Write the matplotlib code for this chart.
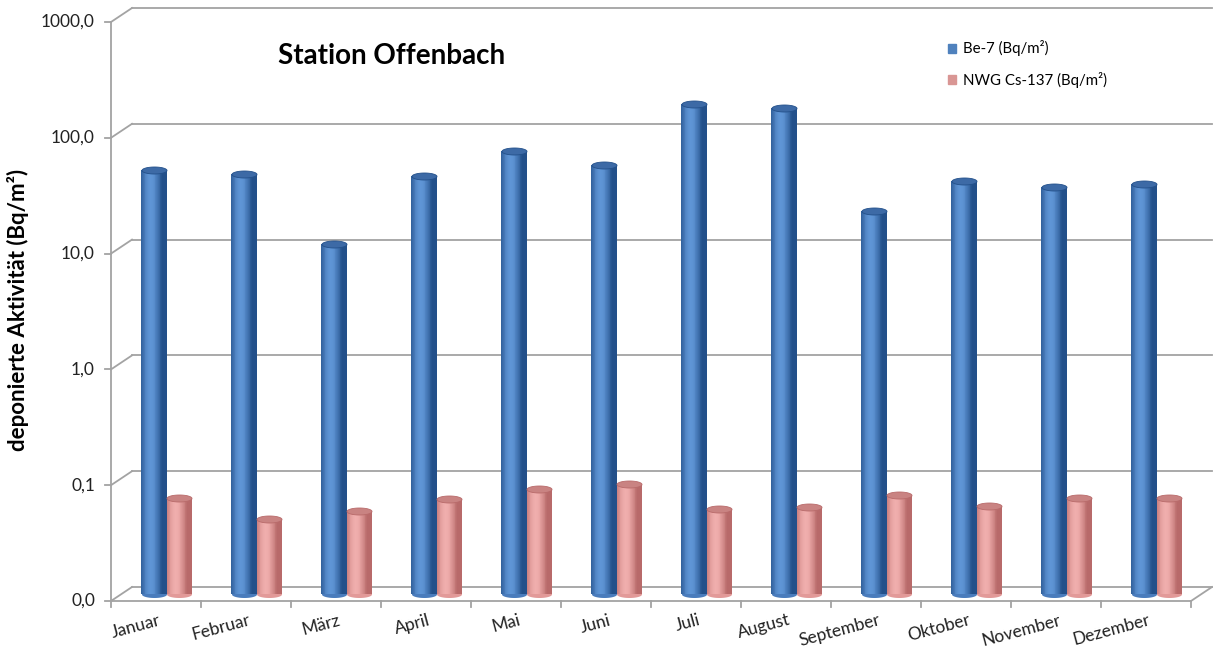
import matplotlib
matplotlib.use("Agg")
import matplotlib.pyplot as plt
import numpy as np
from matplotlib import transforms
from matplotlib.lines import Line2D
from matplotlib.path import Path
from matplotlib.patches import Patch

plt.rcParams['font.family'] = ['Lato', 'DejaVu Sans']

# data (log scale, Bq/m²)
monate = ['Januar', 'Februar', 'März', 'April', 'Mai', 'Juni', 'Juli',
          'August', 'September', 'Oktober', 'November', 'Dezember']
be7 = [46, 42.6, 10.6, 41, 67, 51, 171, 158, 20.4, 37, 33, 35]
cs137 = [0.067, 0.044, 0.052, 0.066, 0.080, 0.089, 0.054, 0.056, 0.071, 0.058, 0.067, 0.068]
yticks = [0.01, 0.1, 1, 10, 100, 1000]
ylabels = ['0,0', '0,1', '1,0', '10,0', '100,0', '1000,0']

W, H = 1213, 668
fig = plt.figure(figsize=(W / 100, H / 100), dpi=100)
# axes = middle depth plane of the 3D box
ax = fig.add_axes([121.5 / W, 1 - 594 / H, 1080 / W, 579 / H])
ax.set_yscale('log')
ax.set_xlim(-0.5, 11.5)
ax.set_ylim(0.01, 1000)
ax.axis('off')

gc = '#a3a3a3'
back = transforms.offset_copy(ax.transData, fig=fig, x=10.5, y=7, units='dots')
front = transforms.offset_copy(ax.transData, fig=fig, x=-10.5, y=-7, units='dots')
ident = transforms.IdentityTransform()


def seg(p, q, **kw):
    fig.add_artist(Line2D([p[0], q[0]], [p[1], q[1]], transform=ident,
                          color=gc, lw=1.3, **kw))


# back wall grid + side wall diagonals + y ticks
for v, lab in zip(yticks, ylabels):
    ax.plot([-0.5, 11.5], [v, v], transform=back, color=gc, lw=1.3, clip_on=False, zorder=0)
    pf = front.transform((-0.5, v))
    pb = back.transform((-0.5, v))
    seg(pf, pb)
    seg(pf, (pf[0] - 6, pf[1]))
    fig.text(pf[0] - 16, pf[1], lab, transform=ident, ha='right', va='center',
             fontsize=12.5, color='#222222')

# front y axis, floor
ax.plot([-0.5, -0.5], [0.01, 1000], transform=front, color=gc, lw=1.3, clip_on=False)
ax.plot([-0.5, 11.5], [0.01, 0.01], transform=front, color=gc, lw=1.3, clip_on=False, zorder=5)
seg(front.transform((11.5, 0.01)), back.transform((11.5, 0.01)))
for k in range(13):
    p = front.transform((k - 0.5, 0.01))
    seg(p, (p[0], p[1] - 6))

for k, m in enumerate(monate):
    p = front.transform((k, 0.01))
    fig.text(p[0] + 2, p[1] - 11, m, transform=ident, ha='right', va='top',
             rotation=15, rotation_mode='anchor', fontsize=12.5, color='#222222')


# cylinders
def cyl_colors(dark, light, n):
    t = (np.arange(n) + 0.5) / n
    f = np.clip(np.cos((t - 0.38) * np.pi * 1.05), 0, 1) ** 1.3
    d = np.array(matplotlib.colors.to_rgb(dark))
    l = np.array(matplotlib.colors.to_rgb(light))
    return [tuple(d + (l - d) * fi) for fi in f]


theta = np.linspace(0, 2 * np.pi, 60)
ell = Path(np.column_stack([np.cos(theta), 0.28 * np.sin(theta)]), closed=True)

x = np.arange(len(monate))
bw = 0.278
nstrip = 30
series = [
    (be7, -bw / 2, '#23508a', '#5f95d6', '#4a7cbc', '#3d6aa6'),
    (cs137, bw / 2, '#b86a6a', '#f0aead', '#e29a99', '#c98382'),
]
for vals, off, dark, light, mid, top in series:
    vals = np.array(vals)
    cols = cyl_colors(dark, light, nstrip)
    sw = bw / nstrip
    ax.scatter(x + off, np.full(len(x), 0.01), marker=ell, s=(bw * 90 * 0.72) ** 2,
               color=mid, linewidths=0, zorder=2, clip_on=False)
    for i, c in enumerate(cols):
        ax.bar(x + off - bw / 2 + (i + 0.5) * sw, vals - 0.01, bottom=0.01, width=sw * 1.6,
               color=c, linewidth=0, zorder=3 + i * 0.001)
    ax.scatter(x + off, vals, marker=ell, s=(bw * 90 * 0.72) ** 2,
               color=top, edgecolors=dark, linewidths=0.6, zorder=4, clip_on=False)

fig.text(278 / W, 1 - 56 / H, 'Station Offenbach', fontsize=20, fontweight='bold',
         ha='left', va='center', color='black')
fig.text(18 / W, 1 - 310 / H, 'deponierte Aktivität (Bq/m²)', rotation=90, fontsize=16,
         fontweight='bold', ha='center', va='center', color='black')

handles = [Patch(color='#4f81bd', label='Be-7 (Bq/m²)'),
           Patch(color='#d99694', label='NWG Cs-137 (Bq/m²)')]
fig.legend(handles=handles, loc='upper left', bbox_to_anchor=(934 / W, 1 - 27 / H),
           frameon=False, fontsize=10.8, handlelength=0.55, handleheight=0.55,
           handletextpad=0.5, labelspacing=1.05)

fig.savefig('out.png', dpi=100)
